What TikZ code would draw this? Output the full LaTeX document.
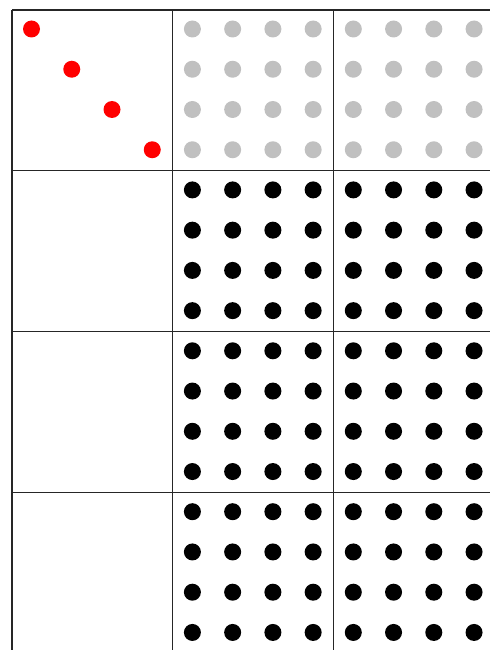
\documentclass[tikz,border=0pt]{standalone}
\usepackage{tikz}
\usetikzlibrary{positioning}
\begin{document}
\begin{tikzpicture}[x=1pt,y=-1pt,line join=round]
\definecolor{diagc}{RGB}{255,0,0}\definecolor{offc}{RGB}{192,192,192}
\tikzset{gridline/.style={draw=black!85,line width=1.1pt}}
\useasboundingbox (0,0) rectangle (490,650);
% cell pitch 160.9, dot pitch 40.25 inside each cell
\foreach \c in {0,1,2}{\draw[gridline] (12+160.9*\c,10) -- (12+160.9*\c,650);}
\foreach \r in {0,...,3}{\draw[gridline] (12,10+160.9*\r) -- (490,10+160.9*\r);}
% top-left block: only the diagonal
\foreach \k in {0,...,3}{\fill[diagc] (31.5+40.25*\k,29+40.25*\k) circle (8.5);}
% the other blocks: full 4x4 dot grids, grey in the first row of blocks
\foreach \r/\col in {0/offc,1/black,2/black,3/black}{
  \foreach \c in {1,2}{
    \foreach \k in {0,...,3}{\foreach \l in {0,...,3}{
      \fill[\col] (12+160.9*\c+19.5+40.25*\k,10+160.9*\r+19+40.25*\l) circle (8.5);}}}}
\end{tikzpicture}
\end{document}
